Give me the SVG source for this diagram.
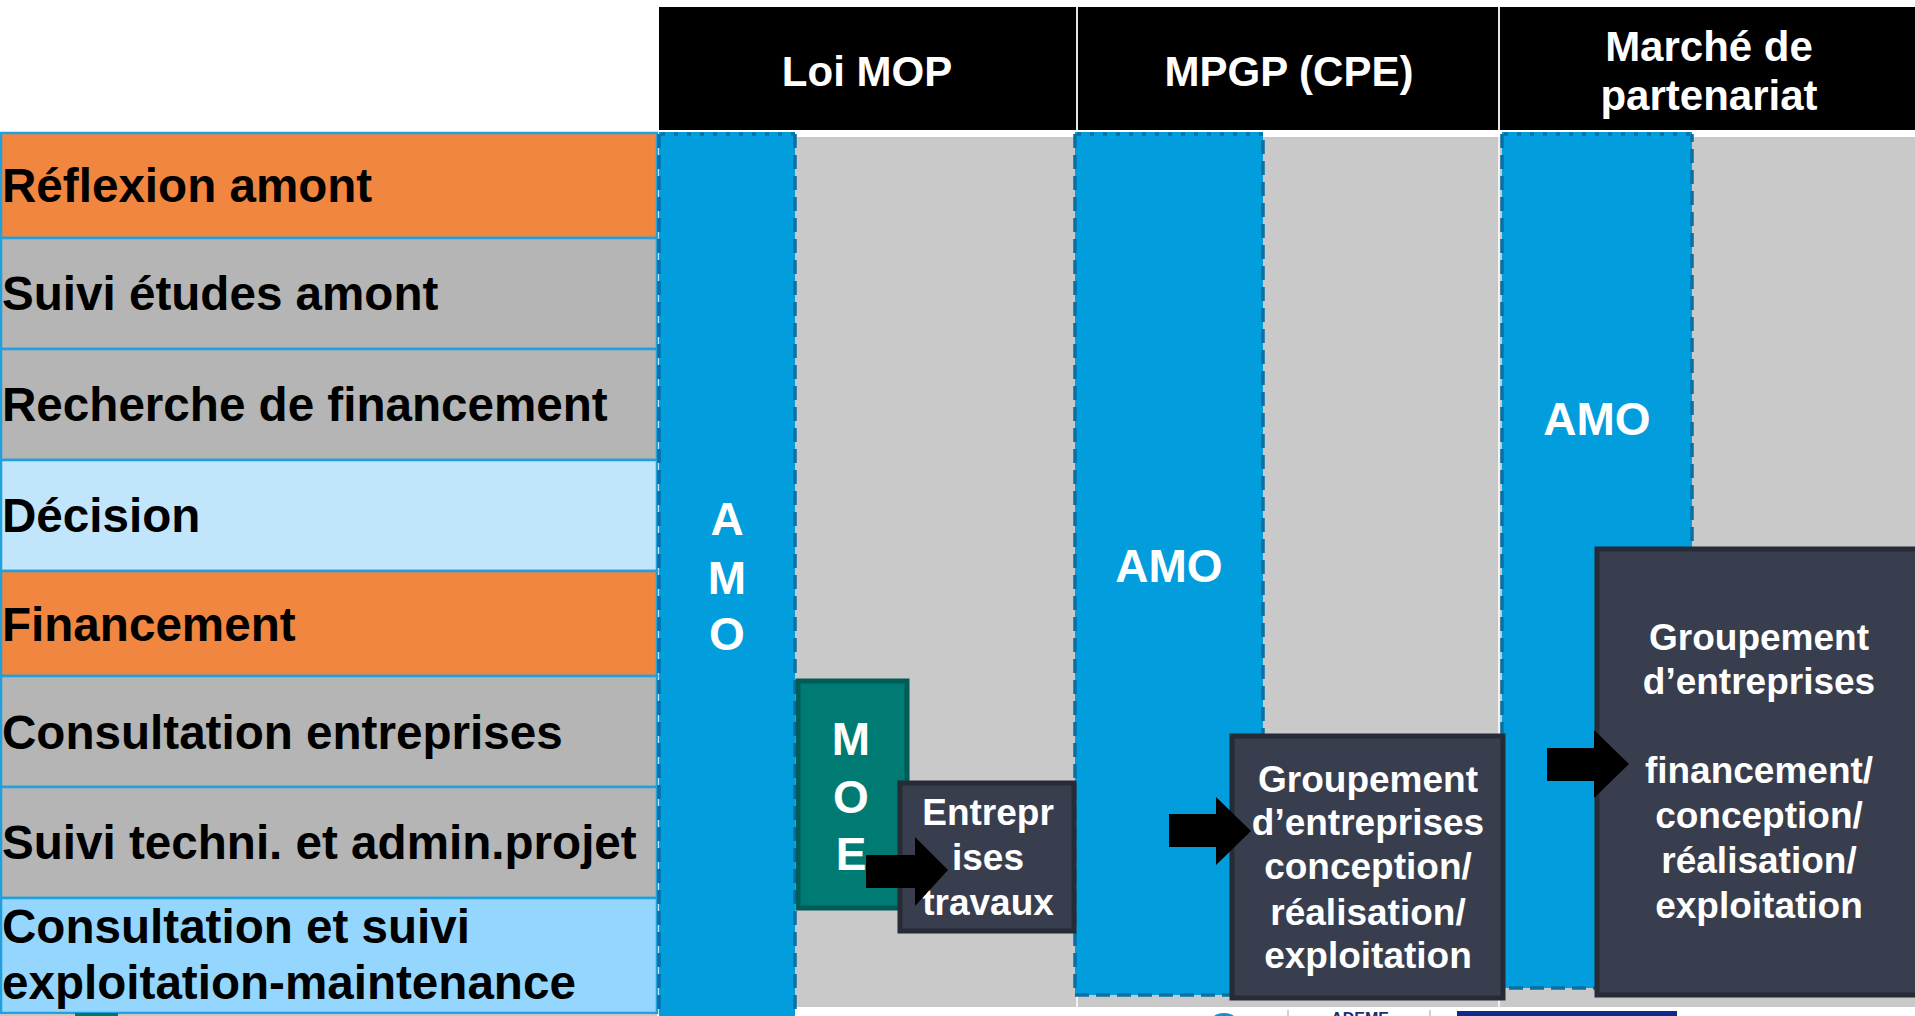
<svg xmlns="http://www.w3.org/2000/svg" width="1915" height="1016" viewBox="0 0 1915 1016">
<style>
text{font-family:"Liberation Sans",Arial,sans-serif;font-weight:bold}
.row{stroke:#22a0dd;stroke-width:2.5}
.orange{fill:#f0863f}
.gray{fill:#b4b5b4}
.lb1{fill:#c1e5fb}
.lb2{fill:#94d6fd}
.rt{font-size:47.6px;fill:#000}
.hd{font-size:42px;fill:#fff;text-anchor:middle}
.amo{fill:#019ddd}
.dash{fill:none;stroke:#0a70a4;stroke-width:3.5;stroke-dasharray:14 7}
.dot{fill:none;stroke:#0a70a4;stroke-width:3.5;stroke-dasharray:4 9}
.wt{fill:#fff;text-anchor:middle}
.big{font-size:46px}
.mid{font-size:37px}
.box{fill:#383e4e;stroke:#272b36;stroke-width:5}
.arr{fill:#000}
</style>
<rect width="1915" height="1016" fill="#fff"/>

<g id="header">
<rect x="659" y="7" width="1256" height="123" fill="#000"/>
<line x1="1077" y1="7" x2="1077" y2="130" stroke="#e6e6e6" stroke-width="2"/>
<line x1="1499" y1="7" x2="1499" y2="130" stroke="#e6e6e6" stroke-width="2"/>
<text class="hd" x="867" y="86">Loi MOP</text>
<text class="hd" x="1289" y="86">MPGP (CPE)</text>
<text class="hd" x="1709" y="61">Marché de</text>
<text class="hd" x="1709" y="110">partenariat</text>
</g>

<g id="rows">
<rect class="row orange" x="1" y="133" width="656" height="105"/>
<rect class="row gray" x="1" y="238" width="656" height="111"/>
<rect class="row gray" x="1" y="349" width="656" height="111"/>
<rect class="row lb1" x="1" y="460" width="656" height="111"/>
<rect class="row orange" x="1" y="571" width="656" height="105"/>
<rect class="row gray" x="1" y="676" width="656" height="111"/>
<rect class="row gray" x="1" y="787" width="656" height="111"/>
<rect class="row lb2" x="1" y="898" width="656" height="115"/>
<text class="rt" x="2" y="202">Réflexion amont</text>
<text class="rt" x="2" y="310">Suivi études amont</text>
<text class="rt" x="2" y="421">Recherche de financement</text>
<text class="rt" x="2" y="532">Décision</text>
<text class="rt" x="2" y="641">Financement</text>
<text class="rt" x="2" y="749">Consultation entreprises</text>
<text class="rt" x="2" y="859">Suivi techni. et admin.projet</text>
<text class="rt" x="2" y="943">Consultation et suivi</text>
<text class="rt" x="2" y="999">exploitation-maintenance</text>
<rect x="0" y="1014" width="657" height="2" fill="#c8c8c8"/>
<rect x="75" y="1013" width="43" height="3" fill="#00756d"/>
</g>

<g id="panels">
<rect x="795" y="137" width="1120" height="870" fill="#c9c9c9"/>
<line x1="1077" y1="137" x2="1077" y2="1007" stroke="#f2f2f2" stroke-width="2"/>
<line x1="1499" y1="137" x2="1499" y2="1007" stroke="#f2f2f2" stroke-width="2"/>
</g>

<g id="amo-mop">
<rect class="amo" x="659" y="132" width="136" height="884"/>
<path class="dash" d="M659,134 V1016 M795,134 V1016"/>
<path class="dot" d="M661,134 H795"/>
<text class="wt big" x="727" y="535">A</text>
<text class="wt big" x="727" y="594">M</text>
<text class="wt big" x="727" y="650">O</text>
</g>

<g id="amo-mpgp">
<rect class="amo" x="1075" y="132" width="188" height="863"/>
<path class="dash" d="M1075,134 V995 H1263 V134"/>
<path class="dot" d="M1077,134 H1263"/>
<text class="wt big" x="1169" y="582">AMO</text>
</g>

<g id="amo-partenariat">
<rect class="amo" x="1502" y="132" width="190" height="856"/>
<path class="dash" d="M1502,134 V988 H1692 V134"/>
<path class="dot" d="M1504,134 H1692"/>
<text class="wt big" x="1597" y="435">AMO</text>
</g>

<g id="moe">
<rect x="798" y="681" width="109" height="227" fill="#007b73" stroke="#005c56" stroke-width="5"/>
<text class="wt big" x="851" y="755">M</text>
<text class="wt big" x="851" y="813">O</text>
<text class="wt big" x="851" y="870">E</text>
</g>

<g id="entreprises">
<rect class="box" x="900" y="783" width="174" height="148"/>
<text class="wt mid" x="988" y="825">Entrepr</text>
<text class="wt mid" x="988" y="870">ises</text>
<text class="wt mid" x="988" y="915">travaux</text>
</g>

<g id="groupement-cpe">
<rect class="box" x="1232" y="736" width="271" height="262"/>
<text class="wt mid" x="1368" y="792">Groupement</text>
<text class="wt mid" x="1368" y="835">d’entreprises</text>
<text class="wt mid" x="1368" y="879">conception/</text>
<text class="wt mid" x="1368" y="925">réalisation/</text>
<text class="wt mid" x="1368" y="968">exploitation</text>
</g>

<g id="groupement-partenariat">
<rect class="box" x="1597" y="549" width="330" height="446"/>
<text class="wt mid" x="1759" y="650">Groupement</text>
<text class="wt mid" x="1759" y="694">d’entreprises</text>
<text class="wt mid" x="1759" y="783">financement/</text>
<text class="wt mid" x="1759" y="828">conception/</text>
<text class="wt mid" x="1759" y="873">réalisation/</text>
<text class="wt mid" x="1759" y="918">exploitation</text>
</g>

<g id="connectors">
<polygon class="arr" points="866,855 915,855 915,837 948,870 915,906 915,888 866,888"/>
<polygon class="arr" points="1169,814 1216,814 1216,797 1251,831 1216,865 1216,847 1169,847"/>
<polygon class="arr" points="1547,748 1594,748 1594,730 1629,764 1594,798 1594,781 1547,781"/>
</g>

<g id="footer">
<circle cx="1224" cy="1031" r="18" fill="#1a8fd0"/>
<line x1="1288" y1="1010" x2="1288" y2="1016" stroke="#9aa4b8" stroke-width="1"/>
<line x1="1430" y1="1010" x2="1430" y2="1016" stroke="#9aa4b8" stroke-width="1"/>
<text x="1360" y="1024" font-size="16" fill="#1c2f6e" text-anchor="middle">ADEME</text>
<rect x="1457" y="1011" width="220" height="5" fill="#0f2a8e"/>
</g>
</svg>
